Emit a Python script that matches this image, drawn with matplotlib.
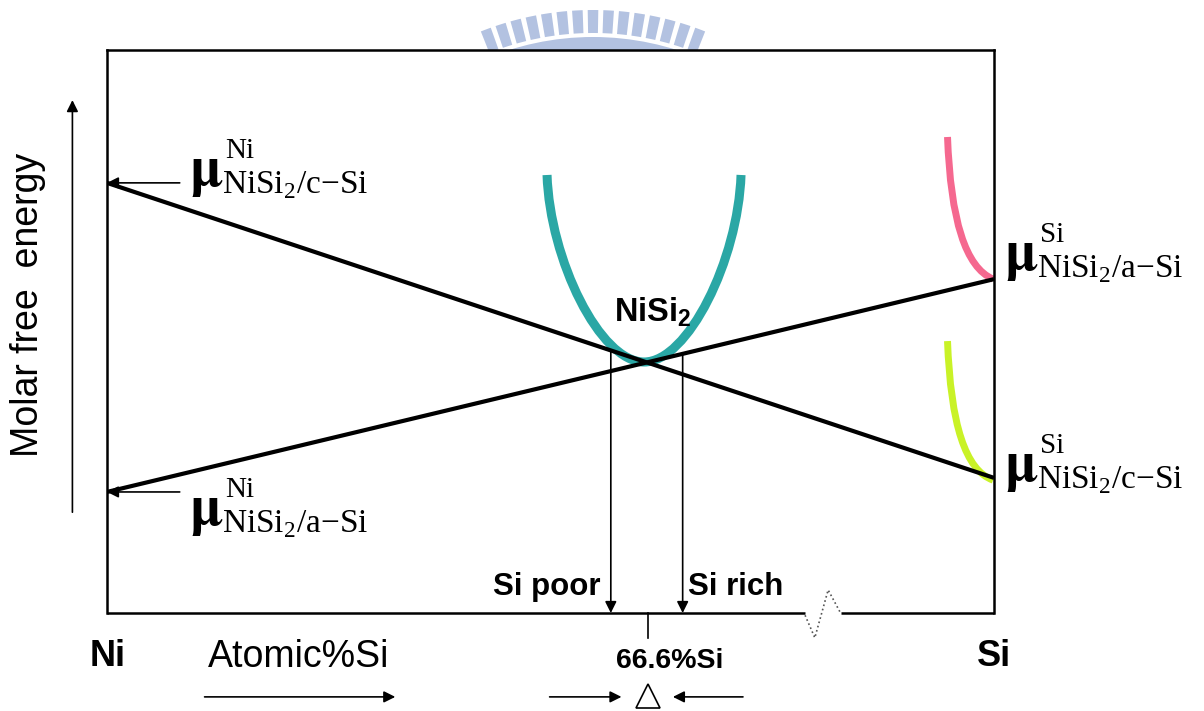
import numpy as np
import matplotlib
matplotlib.use("Agg")
import matplotlib.pyplot as plt
from matplotlib.path import Path
from matplotlib.patches import PathPatch, Wedge

plt.rcParams['font.family'] = ['Liberation Sans', 'DejaVu Sans']
plt.rcParams['mathtext.fontset'] = 'custom'
plt.rcParams['mathtext.rm'] = 'Liberation Serif'
plt.rcParams['mathtext.bf'] = 'Liberation Sans:bold'

# --- schematic free-energy data (x: position across the box, y: molar free energy) ---
box_x = [0.0, 1.0]
line_c_si = [0.764, 0.240]   # mu(Ni) NiSi2/c-Si  ->  mu(Si) NiSi2/c-Si
line_a_si = [0.215, 0.593]   # mu(Ni) NiSi2/a-Si  ->  mu(Si) NiSi2/a-Si

# NiSi2 free-energy well: two cubic segments meeting at the minimum
nisi2_curve = [(0.4961, 0.778), (0.4994, 0.627), (0.5558, 0.4458),
               (0.6054, 0.4458),
               (0.6550, 0.4458), (0.7114, 0.627), (0.7148, 0.778)]
# Si end branches: start, control, end
asi_curve = [(0.9476, 0.8455), (0.9526, 0.6235), (0.999, 0.593)]
csi_curve = [(0.9476, 0.483), (0.9526, 0.261), (0.999, 0.236)]

si_poor_x = 0.568
si_rich_x = 0.649
stoich_x = 0.610
break_x = [0.787, 0.798, 0.813, 0.827]
break_y = [-0.004, -0.044, 0.041, 0.0]

teal = '#2aa7a5'
pink = '#f5688f'
lime = '#c9f227'

fig = plt.figure(figsize=(12.04, 7.11), dpi=100)

# faint logo arc behind the top edge
logo = fig.add_axes([0, 0, 1, 1])
logo.set_xlim(0, 1204)
logo.set_ylim(0, 711)
logo.axis('off')
logo_blue = '#b3c2e1'
for ang in np.arange(90 - 7 * 2.95, 90 + 7.5 * 2.95, 2.95):
    logo.add_patch(Wedge((593, 397), 304, ang - 1.0, ang + 1.0, width=23,
                         color=logo_blue, lw=0))
logo.add_patch(Wedge((593, 397), 277, 66, 114, width=30, color=logo_blue,
                     lw=0))

ax = fig.add_axes([107 / 1204, 98 / 711, 887 / 1204, 563 / 711])
ax.set_xlim(0, 1)
ax.set_ylim(0, 1)
ax.set_xticks([])
ax.set_yticks([])
for s in ['left', 'right', 'top']:
    ax.spines[s].set_linewidth(1.8)
ax.spines['bottom'].set_visible(False)

# bottom edge with the axis break
ax.plot([0, break_x[0]], [0, 0], color='black', lw=1.8, clip_on=False,
        solid_capstyle='butt')
ax.plot([break_x[-1], 1], [0, 0], color='black', lw=1.8, clip_on=False,
        solid_capstyle='butt')
ax.plot(break_x, break_y, color='#555555', lw=1.2, ls=':', clip_on=False)


def curve(pts, color, lw):
    if len(pts) == 3:
        codes = [Path.MOVETO, Path.CURVE3, Path.CURVE3]
    else:
        codes = [Path.MOVETO] + [Path.CURVE4] * (len(pts) - 1)
    ax.add_patch(PathPatch(Path(pts, codes), fill=False, edgecolor=color,
                           lw=lw, capstyle='butt', clip_on=False))


curve(nisi2_curve, teal, 6.5)
curve(asi_curve, pink, 5)
curve(csi_curve, lime, 5)

ax.plot(box_x, line_c_si, color='black', lw=3, solid_capstyle='butt')
ax.plot(box_x, line_a_si, color='black', lw=3, solid_capstyle='butt')

# thin pointers
thin = dict(arrowstyle='-|>', color='black', lw=1.2, mutation_scale=17,
            shrinkA=0, shrinkB=0)
for yv in [line_c_si[0], line_a_si[0]]:
    ax.annotate('', xy=(0, yv), xytext=(0.082, yv), arrowprops=thin,
                annotation_clip=False)

# Si poor / Si rich drop lines from the tangent points
for xv, line in [(si_poor_x, line_c_si), (si_rich_x, line_a_si)]:
    y0 = np.interp(xv, box_x, line)
    ax.annotate('', xy=(xv, 0), xytext=(xv, y0), arrowprops=thin,
                annotation_clip=False)
ax.plot([stoich_x, stoich_x], [0, -0.045], color='black', lw=1.2,
        clip_on=False)

ax.text(0.435, 0.046, 'Si poor', fontsize=22.5, fontweight='bold',
        ha='left', va='center')
ax.text(0.655, 0.046, 'Si rich', fontsize=22.5, fontweight='bold',
        ha='left', va='center')
ax.text(0.572, 0.535, r'NiSi$_\mathbf{2}$', fontsize=23.5, fontweight='bold',
        ha='left', va='center')

# composition axis labels
ax.text(0.001, -0.078, 'Ni', fontsize=26, fontweight='bold', ha='center',
        va='center')
ax.text(1.0, -0.078, 'Si', fontsize=26, fontweight='bold', ha='center',
        va='center')
ax.text(0.114, -0.078, 'Atomic%Si', fontsize=27, ha='left', va='center')
ax.annotate('', xy=(0.325, -0.149), xytext=(0.110, -0.149),
            arrowprops=thin, annotation_clip=False)
ax.text(0.634, -0.085, '66.6%Si', fontsize=20.5, fontweight='bold',
        ha='center', va='center')
ax.plot([stoich_x], [-0.147], marker='^', ms=17, mfc='white', mec='black',
        mew=1.2, clip_on=False)
ax.annotate('', xy=(0.580, -0.149), xytext=(0.499, -0.149),
            arrowprops=thin, annotation_clip=False)
ax.annotate('', xy=(0.638, -0.149), xytext=(0.717, -0.149),
            arrowprops=thin, annotation_clip=False)

# energy axis
ax.text(-0.089, 0.547, 'Molar free  energy', fontsize=27, rotation=90,
        ha='center', va='center')
ax.annotate('', xy=(-0.039, 0.911), xytext=(-0.039, 0.179),
            arrowprops=thin, annotation_clip=False)


def mu_label(x, y, sup, sub, dx, dy):
    # dx, dy: pixel offset of the subscript baseline, left edge of the mu
    serif = dict(family='Liberation Serif', ha='left', va='baseline',
                 textcoords='offset pixels', annotation_clip=False)
    ax.annotate('\u03bc', (x, y), xytext=(dx, dy + 8), fontsize=40,
                fontweight='bold', **{**serif, 'family': 'STIXGeneral'})
    ax.annotate(sup, (x, y), xytext=(dx + 35, dy + 35), fontsize=21, **serif)
    ax.annotate(sub, (x, y), xytext=(dx + 32, dy), fontsize=24, **serif)


mu_label(0, line_c_si[0], 'Ni', 'NiSi$_\\mathrm{2}$/c\u2212Si', 83, -10)
mu_label(0, line_a_si[0], 'Ni', 'NiSi$_\\mathrm{2}$/a\u2212Si', 83, -40)
mu_label(1, line_a_si[1], 'Si', 'NiSi$_\\mathrm{2}$/a\u2212Si', 11, 2)
mu_label(1, line_c_si[1], 'Si', 'NiSi$_\\mathrm{2}$/c\u2212Si', 11, -10)

fig.savefig('out.png', dpi=100)
